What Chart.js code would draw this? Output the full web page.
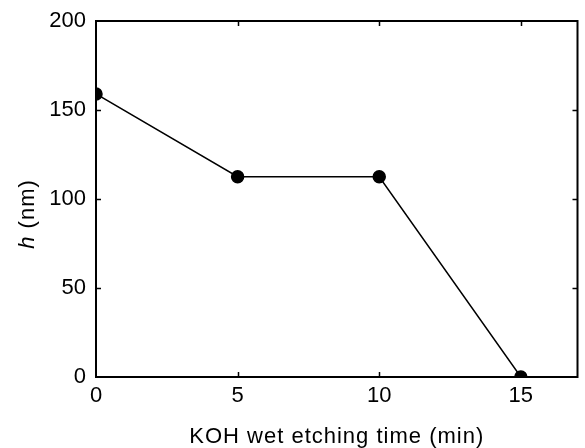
<!DOCTYPE html>
<html><head><meta charset="utf-8">
<script src="https://cdn.jsdelivr.net/npm/chart.js@4/dist/chart.umd.min.js"></script>
<style>html,body{margin:0;padding:0;background:#fff}#wrap{width:585px;height:448px}</style>
</head><body><div id="wrap"><canvas id="c" width="585" height="448"></canvas></div>
<script>
const etchTime = [0, 5, 10, 15];
const heightNm = [159, 112.5, 112.5, 0];
const xTicks = [0, 5, 10, 15];
const yTicks = [0, 50, 100, 150, 200];
const xTitle = 'KOH wet etching time (min)';
const yTitleItalic = 'h';
const yTitleRest = ' (nm)';

const FONT = 'Liberation Sans, Arial, sans-serif';

const frame = {
  id: 'frame',
  afterDatasetsDraw(chart) {
    const {ctx, chartArea: a, scales: {x, y}} = chart;
    ctx.save();
    ctx.strokeStyle = '#000';
    ctx.lineWidth = 1.5;
    const L = 5;
    ctx.beginPath();
    xTicks.forEach(v => {
      const px = Math.round(x.getPixelForValue(v)) + 0.5;
      if (v !== 0) {
        ctx.moveTo(px, a.bottom); ctx.lineTo(px, a.bottom - L);
        ctx.moveTo(px, a.top); ctx.lineTo(px, a.top + L);
      }
    });
    yTicks.forEach(v => {
      const py = Math.round(y.getPixelForValue(v)) + 0.5;
      if (v !== 0 && v !== 200) {
        ctx.moveTo(a.left, py); ctx.lineTo(a.left + L, py);
        ctx.moveTo(a.right, py); ctx.lineTo(a.right - L, py);
      }
    });
    ctx.stroke();
    ctx.lineWidth = 2;
    ctx.strokeRect(a.left, a.top, a.right - a.left, a.bottom - a.top);
    ctx.restore();

    // x title
    ctx.save();
    ctx.fillStyle = '#000';
    ctx.letterSpacing = '1px';
    ctx.font = '22px ' + FONT;
    ctx.textAlign = 'center';
    ctx.textBaseline = 'alphabetic';
    ctx.fillText(xTitle, (a.left + a.right) / 2, 443);
    ctx.restore();

    // y title
    ctx.save();
    ctx.fillStyle = '#000';
    ctx.letterSpacing = '1px';
    ctx.translate(34, 214);
    ctx.rotate(-Math.PI / 2);
    ctx.textBaseline = 'alphabetic';
    ctx.textAlign = 'left';
    ctx.font = 'italic 22px ' + FONT;
    const w1 = ctx.measureText(yTitleItalic).width;
    ctx.font = '22px ' + FONT;
    const w2 = ctx.measureText(yTitleRest).width;
    const start = -(w1 + w2) / 2;
    ctx.font = 'italic 22px ' + FONT;
    ctx.fillText(yTitleItalic, start, 0);
    ctx.font = '22px ' + FONT;
    ctx.fillText(yTitleRest, start + w1, 0);
    ctx.restore();
  }
};

new Chart(document.getElementById('c'), {
  type: 'line',
  data: {
    labels: etchTime,
    datasets: [{
      data: etchTime.map((t, i) => ({x: t, y: heightNm[i]})),
      borderColor: '#000',
      backgroundColor: '#000',
      borderWidth: 1.5,
      pointRadius: 6,
      pointHoverRadius: 6,
      pointBackgroundColor: '#000',
      pointBorderColor: '#000',
      tension: 0,
      clip: 0
    }]
  },
  options: {
    responsive: false,
    animation: false,
    events: [],
    layout: {padding: {top: 21, right: 2, left: 0, bottom: 0}},
    plugins: {legend: {display: false}, tooltip: {enabled: false}},
    scales: {
      x: {
        type: 'linear', min: 0, max: 17,
        afterBuildTicks: s => { s.ticks = xTicks.map(v => ({value: v})); },
        afterFit: s => { s.height = 71; },
        grid: {display: false, drawTicks: false},
        border: {display: false},
        ticks: {color: '#000', font: {family: FONT, size: 22}, padding: 6, maxRotation: 0},
        title: {display: false}
      },
      y: {
        type: 'linear', min: 0, max: 200,
        afterBuildTicks: s => { s.ticks = yTicks.map(v => ({value: v})); },
        afterFit: s => { s.width = 96; },
        grid: {display: false, drawTicks: false},
        border: {display: false},
        ticks: {color: '#000', font: {family: FONT, size: 22, lineHeight: 0.8}, padding: 10}
      }
    }
  },
  plugins: [frame]
});
</script></body></html>
